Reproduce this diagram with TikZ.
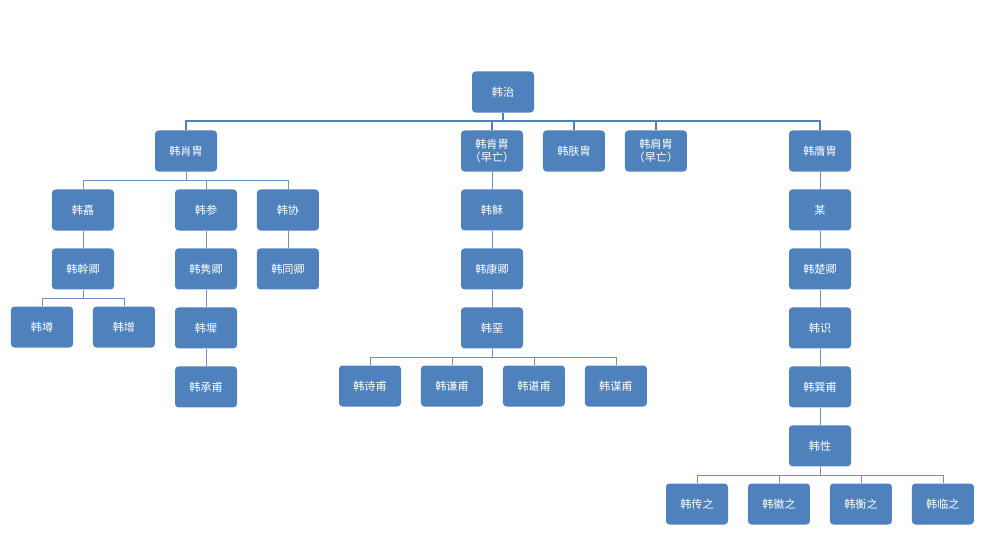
\documentclass[tikz,border=0pt]{standalone}
\usepackage{fontspec}
\newfontfamily\cjk{Noto Sans CJK SC}
\usetikzlibrary{positioning}
\definecolor{boxblue}{HTML}{4F81BD}
\definecolor{linkblue}{HTML}{6E8FBF}

\begin{document}
\begin{tikzpicture}[x=0.03cm, y=-0.03cm, node distance=0.525cm and 0.585cm]
        \tikzstyle{person} = [rectangle, rounded corners=3pt, minimum width=1.86cm, minimum height=1.23cm, inner sep=1pt, text centered, align=center, fill=boxblue, text=white, font=\cjk\fontsize{9.5}{11}\selectfont]
        \tikzstyle{link} = [draw=linkblue, line width=0.6pt]
        \tikzstyle{trunk} = [draw=boxblue, line width=1.1pt]

        \useasboundingbox (0,0) rectangle (985,536);

        \node (zhi) [person] at (503,92) {韩治};

        % sons
        \node (xiao) [person] at (186,151) {韩肖胄};
        \node (ken) [person] at (492,151) {韩肯胄\\（早亡）};
        \node (fu) [person, right=of ken] {韩肤胄};
        \node (jian) [person, right=of fu] {韩肩胄\\（早亡）};
        \node (ying) [person] at (820,151) {韩膺胄};

        % branch of xiao
        \node (zhe) [person] at (83,210) {韩嚞};
        \node (can) [person] at (206,210) {韩参};
        \node (xie) [person, right=of can] {韩协};
        \node (gan) [person, below=of zhe] {韩幹卿};
        \node (juan) [person, below=of can] {韩隽卿};
        \node (tong) [person, below=of xie] {韩同卿};
        \node (zun) [person] at (42,327) {韩墫};
        \node (zeng) [person, right=of zun] {韩增};
        \node (chi) [person, below=of juan] {韩墀};
        \node (cheng) [person, below=of chi] {韩承甫};

        % branch of ken
        \node (su) [person, below=of ken] {韩稣};
        \node (kang) [person, below=of su] {韩康卿};
        \node (e) [person, below=of kang] {韩堊};
        \node (shi) [person] at (370,386) {韩诗甫};
        \node (qian) [person, right=of shi] {韩谦甫};
        \node (chen) [person, right=of qian] {韩谌甫};
        \node (mou) [person, right=of chen] {韩谋甫};

        % branch of ying
        \node (moux) [person, below=of ying] {某};
        \node (chu) [person, below=of moux] {韩楚卿};
        \node (zhis) [person, below=of chu] {韩识};
        \node (xun) [person, below=of zhis] {韩巽甫};
        \node (xing) [person, below=of xun] {韩性};
        \node (chuan) [person] at (697,504) {韩传之};
        \node (hui) [person, right=of chuan] {韩徽之};
        \node (heng) [person, right=of hui] {韩衡之};
        \node (lin) [person, right=of heng] {韩临之};

        % elbow links
        \foreach \kid in {xiao,ken,fu,jian,ying}
            \draw [trunk] (zhi.south) -- ++(0,-0.25cm) -| (\kid.north);
        \foreach \kid in {zhe,can,xie}
            \draw [link] (xiao.south) -- ++(0,-0.27cm) -| (\kid.north);
        \foreach \kid in {zun,zeng}
            \draw [link] (gan.south) -- ++(0,-0.27cm) -| (\kid.north);
        \foreach \kid in {shi,qian,chen,mou}
            \draw [link] (e.south) -- ++(0,-0.27cm) -| (\kid.north);
        \foreach \kid in {chuan,hui,heng,lin}
            \draw [link] (xing.south) -- ++(0,-0.27cm) -| (\kid.north);

        % straight links
        \draw [link] (zhe) -- (gan);
        \draw [link] (can) -- (juan);
        \draw [link] (juan) -- (chi);
        \draw [link] (chi) -- (cheng);
        \draw [link] (xie) -- (tong);
        \draw [link] (ken) -- (su);
        \draw [link] (su) -- (kang);
        \draw [link] (kang) -- (e);
        \draw [link] (ying) -- (moux);
        \draw [link] (moux) -- (chu);
        \draw [link] (chu) -- (zhis);
        \draw [link] (zhis) -- (xun);
        \draw [link] (xun) -- (xing);
    \end{tikzpicture}
\end{document}
